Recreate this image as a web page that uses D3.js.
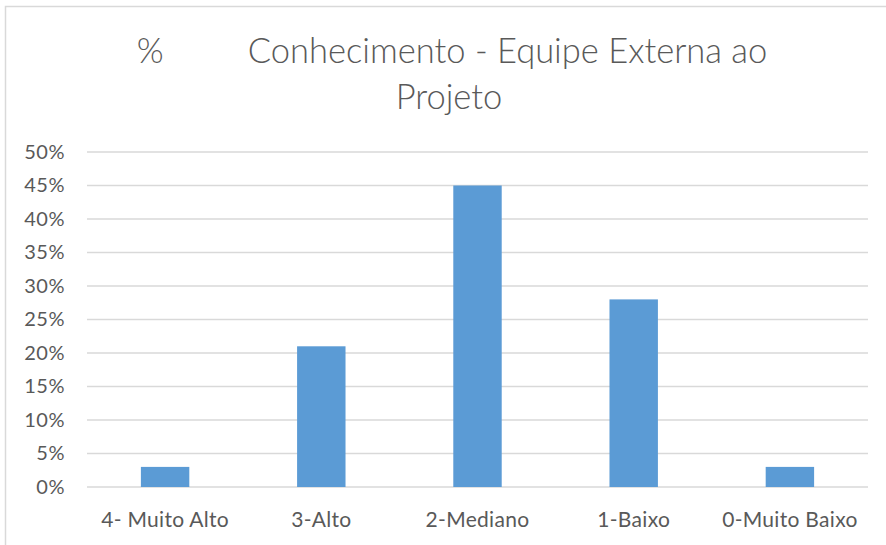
<!DOCTYPE html>
<html>
<head>
<meta charset="utf-8">
<script src="https://cdn.jsdelivr.net/npm/d3@7"></script>
<style>
  body { margin: 0; background: #fff; }
  text { font-family: Lato, "Open Sans", sans-serif; fill: #595959; }
</style>
</head>
<body>
<div id="chart"></div>
<script>
const categories = ["4- Muito Alto", "3-Alto", "2-Mediano", "1-Baixo", "0-Muito Baixo"];
const values = [0.03, 0.21, 0.45, 0.28, 0.03];
const yTicks = [0, 0.05, 0.10, 0.15, 0.20, 0.25, 0.30, 0.35, 0.40, 0.45, 0.50];
const titleLines = ["%         Conhecimento - Equipe Externa ao", "Projeto"];

const width = 886, height = 545;
const margin = {top: 152, right: 18, bottom: 58, left: 87};

const svg = d3.select("#chart").append("svg")
    .attr("width", width)
    .attr("height", height);

// chart frame
svg.append("rect")
    .attr("x", 5.5).attr("y", 6.5)
    .attr("width", 900).attr("height", 560)
    .attr("fill", "none")
    .attr("stroke", "#d9d9d9")
    .attr("stroke-width", 1.5);

const x = d3.scaleBand()
    .domain(categories)
    .range([margin.left, width - margin.right])
    .paddingInner(0.69)
    .paddingOuter(0.345);

const y = d3.scaleLinear()
    .domain([0, 0.5])
    .range([height - margin.bottom, margin.top]);

// gridlines
svg.append("g")
    .selectAll("line")
    .data(yTicks)
    .enter().append("line")
    .attr("x1", margin.left)
    .attr("x2", width - margin.right)
    .attr("y1", d => y(d))
    .attr("y2", d => y(d))
    .attr("stroke", "#d9d9d9")
    .attr("stroke-width", 1.5);

// y axis labels
const yAxis = d3.axisLeft(y)
    .tickValues(yTicks)
    .tickFormat(d3.format(".0%"))
    .tickSize(0)
    .tickPadding(22);

svg.append("g")
    .attr("transform", `translate(${margin.left},0)`)
    .call(yAxis)
    .call(g => g.select(".domain").remove())
    .selectAll("text")
    .style("font-size", "20px")
    .style("letter-spacing", "0.5px")
    .attr("fill", "#595959");

// bars
svg.append("g")
    .selectAll("rect")
    .data(values)
    .enter().append("rect")
    .attr("x", (d, i) => x(categories[i]))
    .attr("y", d => y(d))
    .attr("width", x.bandwidth())
    .attr("height", d => y(0) - y(d))
    .attr("fill", "#5b9bd5");

// x axis labels
const xAxis = d3.axisBottom(x).tickSize(0).tickPadding(25);
svg.append("g")
    .attr("transform", `translate(0,${height - margin.bottom})`)
    .call(xAxis)
    .call(g => g.select(".domain").remove())
    .selectAll("text")
    .style("font-size", "21px")
    .style("letter-spacing", "0.3px")
    .attr("fill", "#595959");

// title
svg.append("g")
    .selectAll("text")
    .data(titleLines)
    .enter().append("text")
    .attr("x", (d, i) => i === 0 ? 452 : 449)
    .attr("y", (d, i) => 63 + i * 46)
    .attr("text-anchor", "middle")
    .style("font-size", "34.5px")
    .style("font-weight", "300")
    .style("white-space", "pre")
    .attr("xml:space", "preserve")
    .text(d => d);
</script>
</body>
</html>
